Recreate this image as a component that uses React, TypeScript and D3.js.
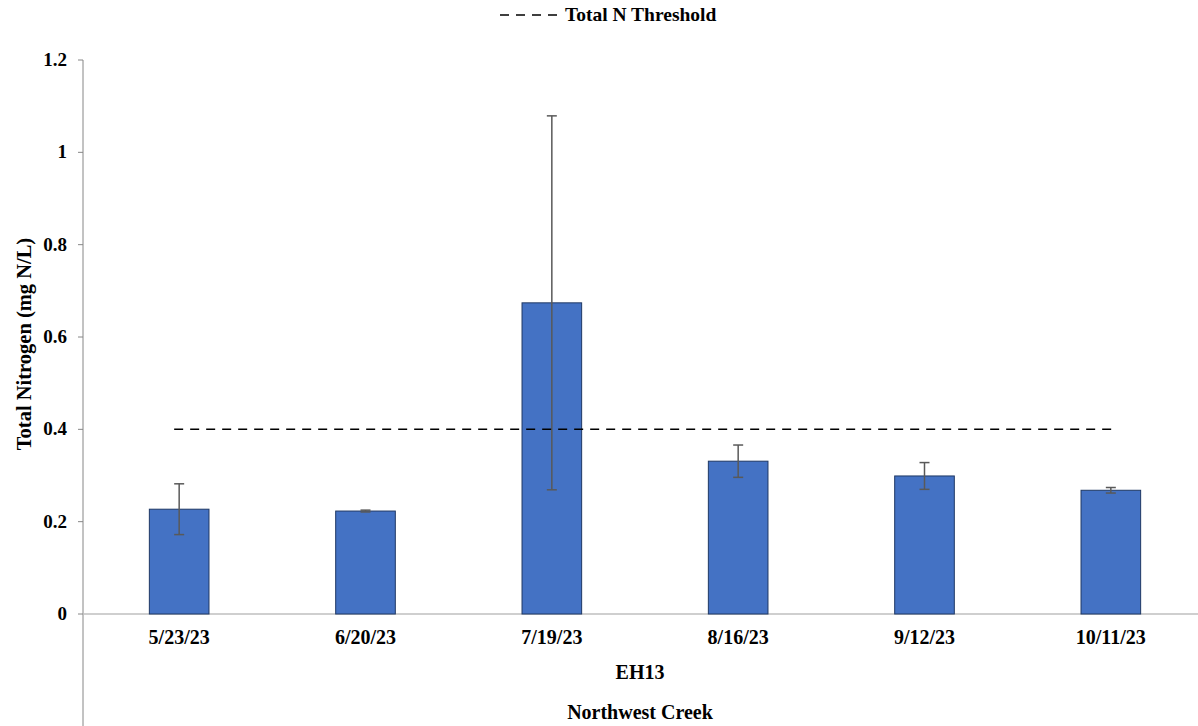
import React from 'react';
import * as d3 from 'd3';

// sampling dates at site EH13
const dates = ['5/23/23', '6/20/23', '7/19/23', '8/16/23', '9/12/23', '10/11/23'];
const totalN = [0.227, 0.223, 0.674, 0.331, 0.299, 0.268];
const errN = [0.055, 0.002, 0.405, 0.035, 0.029, 0.006];
const threshold = 0.4;
const yTicks = [0, 0.2, 0.4, 0.6, 0.8, 1, 1.2];

const W = 1198;
const H = 726;
const txt = { fontFamily: "'Liberation Serif', 'DejaVu Serif', serif", fontWeight: 'bold' };

const App = () => {
  const x = d3.scaleBand().domain(dates).range([86, 1204]).paddingInner(0.68).paddingOuter(0.34);
  const y = d3.scaleLinear().domain([0, 1.2]).range([614, 60]);
  const bw = x.bandwidth();
  const cx = (d) => x(d) + bw / 2;

  const thLine = d3.line()([
    [cx(dates[0]) - 5, y(threshold)],
    [cx(dates[dates.length - 1]) + 5, y(threshold)],
  ]);

  return (
    <svg width={W} height={H} style={{ position: 'absolute', left: 0, top: 0 }}>
      <rect width={W} height={H} fill="#fff" />

      {/* legend */}
      <g transform="translate(0,15)">
        <line x1={500} x2={557} y1={0} y2={0} stroke="#000" strokeWidth={1.5} strokeDasharray="9,7" />
        <text x={565} y={6} fontSize={19.5} style={txt}>Total N Threshold</text>
      </g>

      {/* y axis */}
      <line x1={83} x2={83} y1={60} y2={H} stroke="#868686" strokeWidth={1} />
      {yTicks.map((t) => (
        <g key={t}>
          <line x1={78} x2={83} y1={y(t)} y2={y(t)} stroke="#868686" />
          <text x={67} y={y(t) + 6} textAnchor="end" fontSize={19} style={txt}>
            {d3.format('~g')(t)}
          </text>
        </g>
      ))}
      <text
        transform={`translate(31,344) rotate(-90)`}
        textAnchor="middle"
        fontSize={20.5}
        style={txt}
      >
        Total Nitrogen (mg N/L)
      </text>

      {/* baseline */}
      <line x1={83} x2={W} y1={y(0)} y2={y(0)} stroke="#BFBFBF" strokeWidth={1.5} />

      {/* bars */}
      {dates.map((d, i) => (
        <rect
          key={d}
          x={x(d)}
          y={y(totalN[i])}
          width={bw}
          height={y(0) - y(totalN[i])}
          fill="#4472C4"
          stroke="#1F3864"
          strokeWidth={1}
        />
      ))}

      {/* error bars */}
      {dates.map((d, i) => {
        const hi = y(totalN[i] + errN[i]);
        const lo = y(totalN[i] - errN[i]);
        return (
          <g key={d} stroke="#595959" strokeWidth={1.5}>
            <line x1={cx(d)} x2={cx(d)} y1={hi} y2={lo} />
            <line x1={cx(d) - 5} x2={cx(d) + 5} y1={hi} y2={hi} />
            <line x1={cx(d) - 5} x2={cx(d) + 5} y1={lo} y2={lo} />
          </g>
        );
      })}

      {/* threshold */}
      <path d={thLine} stroke="#000" strokeWidth={1.5} strokeDasharray="9,7" fill="none" />

      {/* x labels */}
      {dates.map((d) => (
        <text key={d} x={cx(d)} y={644} textAnchor="middle" fontSize={20} style={txt}>
          {d}
        </text>
      ))}
      <text x={640} y={679} textAnchor="middle" fontSize={20} style={txt}>EH13</text>
      <text x={640} y={719} textAnchor="middle" fontSize={20} style={txt}>Northwest Creek</text>
    </svg>
  );
};

export default App;
